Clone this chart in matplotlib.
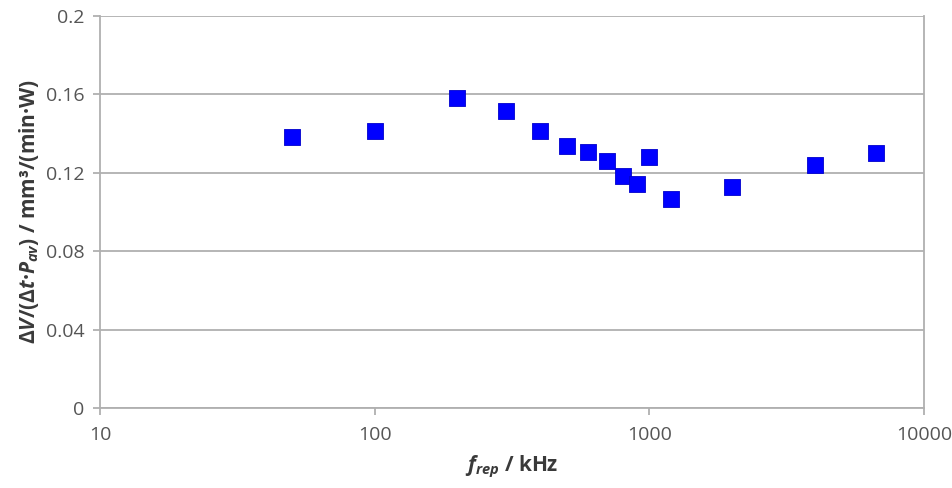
import numpy as np
import matplotlib
matplotlib.use('Agg')
import matplotlib.pyplot as plt
from matplotlib.ticker import FixedLocator, FixedFormatter, NullLocator

# repetition frequency (kHz) and specific removal rate
f_rep = [50, 100, 200, 300, 400, 500, 600, 700, 800, 900, 1000, 1200, 2000, 4000, 6700]
rate = [0.1384, 0.1413, 0.158, 0.1517, 0.1415, 0.1337, 0.1308, 0.1262, 0.1184,
        0.1143, 0.1279, 0.1065, 0.1126, 0.124, 0.1303]

x_ticks = [10, 100, 1000, 10000]
x_ticklabels = ['10', '100', '1000', '10000']
y_ticks = [0, 0.04, 0.08, 0.12, 0.16, 0.2]
y_ticklabels = ['0', '0.04', '0.08', '0.12', '0.16', '0.2']

plt.rcParams['font.family'] = ['Open Sans', 'DejaVu Sans']
plt.rcParams['mathtext.fontset'] = 'custom'
plt.rcParams['mathtext.it'] = 'Open Sans:italic:bold'
plt.rcParams['mathtext.rm'] = 'Open Sans:bold'
plt.rcParams['mathtext.bf'] = 'Open Sans:bold'

grey = '#555555'
line_grey = '#b0b0b0'

fig = plt.figure(figsize=(9.52, 4.88), dpi=100)
ax = fig.add_axes([100/952, 1-408/488, 824/952, 392/488])

ax.scatter(f_rep, rate, marker='s', s=140, color='#0000ff', edgecolor='#0000cc',
           linewidth=0.6, zorder=3)

ax.set_xscale('log')
ax.set_xlim(10, 10000)
ax.set_ylim(0, 0.2)
ax.xaxis.set_major_locator(FixedLocator(x_ticks))
ax.xaxis.set_major_formatter(FixedFormatter(x_ticklabels))
ax.xaxis.set_minor_locator(NullLocator())
ax.set_yticks(y_ticks)
ax.set_yticklabels(y_ticklabels)

ax.grid(axis='y', color=line_grey, linewidth=1.3, zorder=0)
ax.set_axisbelow(True)
for side in ['left', 'bottom', 'right']:
    ax.spines[side].set_color(line_grey)
    ax.spines[side].set_linewidth(1.3)
ax.spines['top'].set_visible(False)

ax.tick_params(axis='both', direction='out', length=5, width=1.3, color=line_grey,
               labelcolor=grey, labelsize=14)
ax.tick_params(axis='y', pad=6)
ax.tick_params(axis='x', pad=8)

ax.set_xlabel(r'$f_{rep}$ / kHz', fontsize=15, fontweight='bold', color='#3a3a3a',
              labelpad=7)
ax.set_ylabel(r'$ΔV/(Δt·P_{av})$ / mm³/(min·W)', fontsize=15, fontweight='bold',
              color='#3a3a3a', labelpad=4)

plt.savefig('out.png', dpi=100)
